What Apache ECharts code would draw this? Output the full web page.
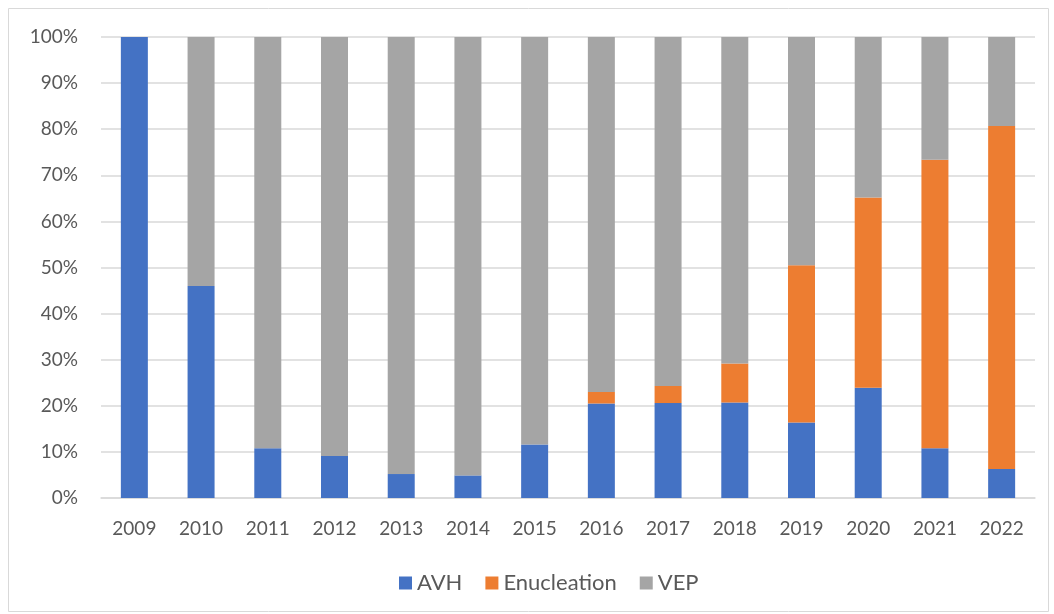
<!DOCTYPE html>
<html>
<head>
<meta charset="utf-8">
<style>
  html, body { margin: 0; padding: 0; background: #fff; }
  #chart { width: 1054px; height: 614px; }
</style>
<script src="https://cdn.jsdelivr.net/npm/echarts@6/dist/echarts.min.js"></script>
</head>
<body>
<div id="chart"></div>
<script>
// Share of procedures per year (%), stacked to 100%
const years = ['2009', '2010', '2011', '2012', '2013', '2014', '2015', '2016', '2017', '2018', '2019', '2020', '2021', '2022'];
const avh = [100, 46.0, 10.8, 9.1, 5.2, 4.9, 11.6, 20.5, 20.6, 20.7, 16.4, 23.9, 10.8, 6.3];
const enucleation = [0, 0, 0, 0, 0, 0, 0, 2.5, 3.7, 8.5, 34.1, 41.3, 62.6, 74.4];
const vep = years.map((_, i) => Math.max(0, +(100 - avh[i] - enucleation[i]).toFixed(1)));
const yTicks = [0, 10, 20, 30, 40, 50, 60, 70, 80, 90, 100];

const textColor = '#595959';
const fontFamily = 'Lato, "Open Sans", "Noto Sans", sans-serif';

const chart = echarts.init(document.getElementById('chart'), null, { renderer: 'canvas' });

function barSeries(name, data, color) {
  return {
    name: name,
    type: 'bar',
    stack: 'total',
    data: data,
    barWidth: 27,
    itemStyle: { color: color },
    emphasis: { disabled: true },
    animation: false
  };
}

chart.setOption({
  animation: false,
  graphic: [{
    type: 'rect',
    shape: { x: 8.5, y: 8.5, width: 1040, height: 603 },
    style: { fill: 'none', stroke: '#d9d9d9', lineWidth: 1 },
    silent: true
  }],
  grid: { left: 101, right: 19, top: 37, bottom: 116 },
  legend: {
    bottom: 15,
    left: 394,
    itemWidth: 13,
    itemHeight: 13,
    itemGap: 23,
    icon: 'rect',
    textStyle: { color: textColor, fontSize: 22, fontFamily: fontFamily },
    data: ['AVH', 'Enucleation', 'VEP']
  },
  xAxis: {
    type: 'category',
    data: years,
    axisLine: { show: true, lineStyle: { color: '#d9d9d9', width: 1.5 } },
    axisTick: { show: false },
    axisLabel: { color: textColor, fontSize: 19, fontFamily: fontFamily, margin: 21 }
  },
  yAxis: {
    type: 'value',
    min: yTicks[0],
    max: yTicks[yTicks.length - 1],
    interval: yTicks[1] - yTicks[0],
    axisLine: { show: false },
    axisTick: { show: false },
    splitLine: { lineStyle: { color: '#d9d9d9', width: 1.5 } },
    axisLabel: { color: textColor, fontSize: 19, fontFamily: fontFamily, margin: 23, formatter: '{value}%' }
  },
  series: [
    barSeries('AVH', avh, '#4472C4'),
    barSeries('Enucleation', enucleation, '#ED7D31'),
    barSeries('VEP', vep, '#A5A5A5')
  ]
});
</script>
</body>
</html>
